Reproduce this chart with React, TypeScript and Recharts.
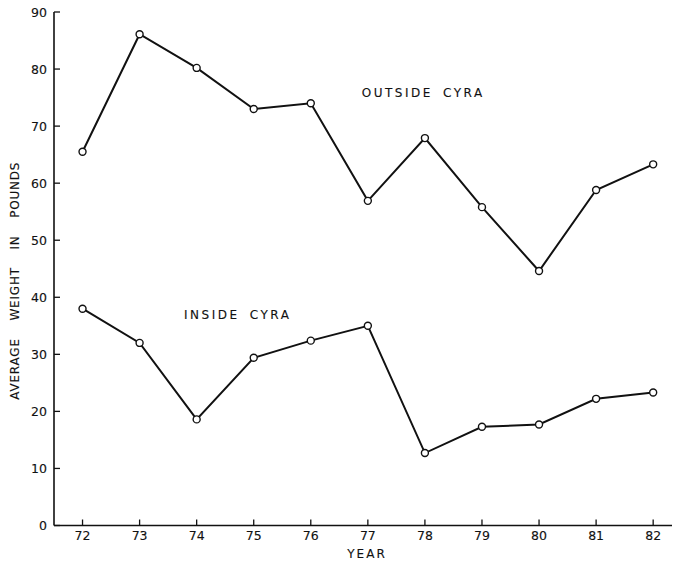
import React from 'react';
import { LineChart, Line, XAxis, YAxis, ReferenceDot } from 'recharts';

const years = [72, 73, 74, 75, 76, 77, 78, 79, 80, 81, 82];
const outsideWeights = [65.5, 86.1, 80.2, 73.0, 74.0, 56.9, 67.9, 55.8, 44.6, 58.8, 63.3];
const insideWeights = [38.0, 32.0, 18.6, 29.4, 32.4, 35.0, 12.7, 17.3, 17.7, 22.2, 23.3];
const yTicks = [0, 10, 20, 30, 40, 50, 60, 70, 80, 90];
const xDomain = [71.5, 82.33];
const yDomain = [0, 90];
const outsideLabel = { year: 77.97, value: 75.85, text: 'OUTSIDE CYRA' };
const insideLabel = { year: 74.72, value: 37.0, text: 'INSIDE CYRA' };

const data = years.map((year, i) => ({ year, outside: outsideWeights[i], inside: insideWeights[i] }));

const INK = '#111';
const FONT = '"DejaVu Sans", sans-serif';
const TEXT_STROKE = { stroke: INK, strokeWidth: 0.12 };

const LeftTick = (p: any) => (
  <g>
    <text x={p.x} y={p.y} dy="0.36em" textAnchor="end" fontFamily={FONT} fontSize={12.5} fill={INK} {...TEXT_STROKE}>
      {p.payload.value}
    </text>
    <line x1={p.x + 7} x2={p.x + 13} y1={p.y} y2={p.y} stroke={INK} strokeWidth={1.3} />
  </g>
);

const RightTick = (p: any) => (
  <line x1={p.x - 5} x2={p.x} y1={p.y} y2={p.y} stroke={INK} strokeWidth={1.3} />
);

const BottomTick = (p: any) => (
  <g>
    <text x={p.x} y={p.y} dy="0.71em" textAnchor="middle" fontFamily={FONT} fontSize={12.5} fill={INK} {...TEXT_STROKE}>
      {p.payload.value}
    </text>
    <line x1={p.x} x2={p.x} y1={p.y - 6} y2={p.y - 12} stroke={INK} strokeWidth={1.3} />
  </g>
);

const TopTick = (p: any) => (
  <line x1={p.x} x2={p.x} y1={p.y} y2={p.y + 6} stroke={INK} strokeWidth={1.3} />
);

const annotation = (text: string) => (props: any) => {
  const vb = props.viewBox || {};
  const cx = vb.cx != null ? vb.cx : vb.x + (vb.width || 0) / 2;
  const cy = vb.cy != null ? vb.cy : vb.y + (vb.height || 0) / 2;
  return (
    <text
      x={cx}
      y={cy}
      dy="0.36em"
      textAnchor="middle"
      fontFamily={FONT}
      fontSize={12}
      fill={INK}
      {...TEXT_STROKE}
      style={{ letterSpacing: 2.5, wordSpacing: 4 }}
    >
      {text}
    </text>
  );
};

const xLabel = (props: any) => {
  const vb = props.viewBox;
  return (
    <text
      x={vb.x + vb.width / 2 + 4}
      y={vb.y + vb.height - 5.5}
      textAnchor="middle"
      fontFamily={FONT}
      fontSize={12}
      fill={INK}
      {...TEXT_STROKE}
      style={{ letterSpacing: 2 }}
    >
      YEAR
    </text>
  );
};

const yLabel = (props: any) => {
  const vb = props.viewBox;
  const cx = vb.x + 15;
  const cy = vb.y + vb.height / 2 + 12;
  return (
    <text
      x={cx}
      y={cy}
      dy="0.36em"
      textAnchor="middle"
      transform={`rotate(-90 ${cx} ${cy})`}
      fontFamily={FONT}
      fontSize={12}
      fill={INK}
      {...TEXT_STROKE}
      style={{ letterSpacing: 0.8, wordSpacing: 13 }}
    >
      AVERAGE WEIGHT IN POUNDS
    </text>
  );
};

export default function App() {
  return (
    <div style={{ position: 'absolute', left: 0, top: 0, background: '#fff' }}>
      <LineChart width={674} height={563} data={data} margin={{ top: 12, right: 0, bottom: 0, left: 0 }}>
        <XAxis
          xAxisId="b"
          dataKey="year"
          type="number"
          domain={xDomain}
          ticks={years}
          interval={0}
          allowDataOverflow
          height={37.5}
          tickSize={0}
          tickMargin={6}
          tick={BottomTick}
          axisLine={{ stroke: INK, strokeWidth: 1.6 }}
          label={{ content: xLabel }}
        />
        <XAxis
          xAxisId="t"
          orientation="top"
          type="number"
          domain={xDomain}
          ticks={years}
          interval={0}
          allowDataOverflow
          height={0}
          tickSize={0}
          tickMargin={0}
          tick={TopTick}
          axisLine={{ stroke: INK, strokeWidth: 1.6 }}
        />
        <YAxis
          yAxisId="l"
          type="number"
          domain={yDomain}
          ticks={yTicks}
          interval={0}
          width={54}
          tickSize={0}
          tickMargin={7}
          tick={LeftTick}
          axisLine={{ stroke: INK, strokeWidth: 1.6 }}
          label={{ content: yLabel }}
        />
        <YAxis
          yAxisId="r"
          orientation="right"
          type="number"
          domain={yDomain}
          ticks={yTicks}
          interval={0}
          width={2}
          tickSize={0}
          tickMargin={0}
          tick={RightTick}
          axisLine={false}
        />
        <Line
          xAxisId="b"
          yAxisId="l"
          dataKey="outside"
          type="linear"
          stroke={INK}
          strokeWidth={2}
          dot={{ r: 3.5, fill: '#fff', stroke: INK, strokeWidth: 1.4 }}
          isAnimationActive={false}
        />
        <Line
          xAxisId="b"
          yAxisId="l"
          dataKey="inside"
          type="linear"
          stroke={INK}
          strokeWidth={2}
          dot={{ r: 3.5, fill: '#fff', stroke: INK, strokeWidth: 1.4 }}
          isAnimationActive={false}
        />
        <ReferenceDot
          xAxisId="b"
          yAxisId="l"
          x={outsideLabel.year}
          y={outsideLabel.value}
          r={1}
          fill="none"
          stroke="none"
          label={{ content: annotation(outsideLabel.text) }}
        />
        <ReferenceDot
          xAxisId="b"
          yAxisId="l"
          x={insideLabel.year}
          y={insideLabel.value}
          r={1}
          fill="none"
          stroke="none"
          label={{ content: annotation(insideLabel.text) }}
        />
      </LineChart>
    </div>
  );
}
